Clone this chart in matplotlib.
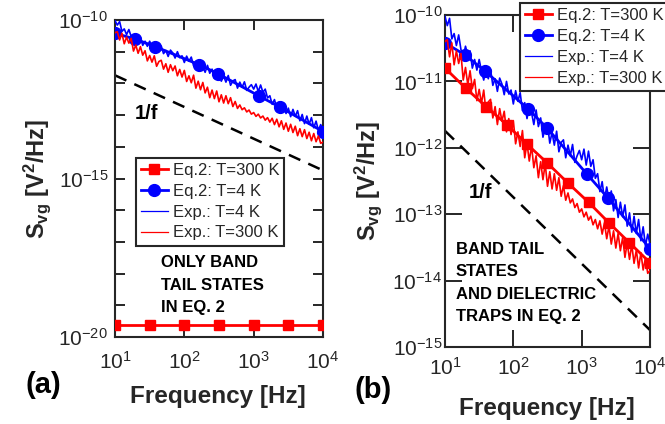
import numpy as np
import matplotlib
matplotlib.use("Agg")
import matplotlib.pyplot as plt
from matplotlib.ticker import FixedLocator, FuncFormatter, LogLocator, NullFormatter, NullLocator

plt.rcParams['font.family'] = ['Liberation Sans', 'DejaVu Sans']
plt.rcParams['mathtext.fontset'] = 'custom'
plt.rcParams['mathtext.rm'] = 'Liberation Sans'
plt.rcParams['mathtext.it'] = 'Liberation Sans:italic'
plt.rcParams['mathtext.bf'] = 'Liberation Sans:bold'

INK = '#262626'

# Measured gate-voltage noise spectra, log10(S_vg) on a log-spaced grid 10 Hz .. 10 kHz
exp_freq = np.logspace(1, 4, 91)
exp_4k_log = [
    -10.02, -10.16, -10.05, -10.36, -10.28, -10.46, -10.30, -10.52, -10.63, -10.47,
    -10.61, -10.54, -10.80, -10.67, -10.83, -10.67, -10.84, -10.98, -10.81, -10.96,
    -10.82, -11.06, -10.96, -11.15, -10.95, -11.04, -11.20, -11.00, -11.19, -11.13,
    -11.34, -11.14, -11.30, -11.17, -11.44, -11.32, -11.56, -11.37, -11.47, -11.65,
    -11.43, -11.68, -11.55, -11.84, -11.69, -11.64, -11.93, -11.77, -11.96, -11.75,
    -12.06, -11.92, -11.88, -12.15, -11.96, -12.12, -11.95, -12.22, -12.12, -12.04,
    -12.18, -12.02, -12.26, -12.05, -12.28, -12.18, -12.46, -12.39, -12.66, -12.51,
    -12.78, -12.59, -12.79, -12.65, -12.95, -12.78, -13.05, -12.82, -13.04, -12.86,
    -13.18, -12.98, -13.27, -13.03, -13.29, -13.08, -13.40, -13.19, -13.48, -13.30,
    -13.45]
exp_300k_log = [
    -10.40, -10.37, -10.63, -10.42, -10.75, -10.54, -10.73, -10.58, -10.98, -10.79,
    -11.05, -10.84, -11.11, -10.97, -11.29, -11.12, -11.33, -11.13, -11.46, -11.31,
    -11.27, -11.55, -11.38, -11.65, -11.41, -11.60, -11.45, -11.76, -11.56, -11.80,
    -11.59, -11.94, -11.76, -11.98, -11.74, -12.15, -11.93, -12.20, -11.97, -12.30,
    -12.12, -12.45, -12.21, -12.48, -12.24, -12.58, -12.36, -12.62, -12.39, -12.64,
    -12.45, -12.73, -12.57, -12.79, -12.68, -12.83, -12.77, -12.90, -12.84, -12.97,
    -12.92, -13.04, -12.97, -13.09, -13.03, -13.16, -13.08, -13.22, -13.10, -13.30,
    -13.13, -13.37, -13.18, -13.45, -13.25, -13.51, -13.29, -13.55, -13.35, -13.65,
    -13.43, -13.68, -13.46, -13.74, -13.54, -13.81, -13.58, -13.84, -13.66, -13.89,
    -13.85]

# Eq. 2 model, T = 4 K (same in both panels)
eq2_4k_freq = [10, 19.5, 38, 163, 310, 1180, 2400, 10000]
eq2_4k_log = [-10.42, -10.60, -10.84, -11.41, -11.70, -12.39, -12.75, -13.52]

# Eq. 2 model, T = 300 K, band tail states only
eq2_300k_a_freq = [10, 31.6, 100, 316, 1000, 3160, 10000]
eq2_300k_a = [2.4e-20, 2.4e-20, 2.4e-20, 2.4e-20, 2.4e-20, 2.4e-20, 2.4e-20]

# Eq. 2 model, T = 300 K, band tail states and dielectric traps
eq2_300k_b_freq = [10, 20, 40, 80, 160, 315, 630, 1260, 2510, 5010, 10000]
eq2_300k_b_log = [-10.80, -11.10, -11.38, -11.65, -11.95, -12.23, -12.53, -12.82,
                  -13.13, -13.43, -13.73]

# 1/f reference slope
ref_freq = [10, 10000]
ref_S = [1.8e-12, 1.8e-15]

x_ticks = [1e1, 1e2, 1e3, 1e4]
x_tick_labels = [r'$\mathregular{10^{1}}$', r'$\mathregular{10^{2}}$',
                 r'$\mathregular{10^{3}}$', r'$\mathregular{10^{4}}$']

W, H = 665, 424
fig = plt.figure(figsize=(W / 100, H / 100), dpi=100)


def frac(x, y):
    return x / W, 1 - y / H


def make_axes(x0, x1, ytop, ybot):
    return fig.add_axes([x0 / W, 1 - ybot / H, (x1 - x0) / W, (ybot - ytop) / H])


def pow_label(v, _pos=None, shown=None):
    e = int(round(np.log10(v)))
    if shown is not None and e not in shown:
        return ''
    return r'$\mathregular{10^{%d}}$' % e


def style_axes(ax, ylo, yhi, shown, major_len, minor_len, xpad, ypad):
    ax.set_xscale('log')
    ax.set_yscale('log')
    ax.set_xlim(10, 1e4)
    ax.set_ylim(10.0 ** ylo, 10.0 ** yhi)
    for s in ax.spines.values():
        s.set_linewidth(1.5)
        s.set_color(INK)
    ax.xaxis.set_major_locator(FixedLocator(x_ticks))
    ax.set_xticklabels(x_tick_labels)
    ax.xaxis.set_minor_locator(LogLocator(base=10, subs=np.arange(2, 10)))
    ax.xaxis.set_minor_formatter(NullFormatter())
    ax.yaxis.set_major_locator(FixedLocator([10.0 ** e for e in range(ylo, yhi + 1)]))
    ax.yaxis.set_major_formatter(FuncFormatter(lambda v, p: pow_label(v, p, shown)))
    ax.yaxis.set_minor_locator(NullLocator())
    ax.tick_params(which='both', direction='in', top=True, right=True,
                   color=INK, labelcolor=INK, width=1.4, labelsize=15)
    ax.tick_params(which='major', length=major_len)
    ax.tick_params(which='minor', length=minor_len)
    ax.tick_params(axis='x', which='major', pad=xpad)
    ax.tick_params(axis='y', which='major', pad=ypad)


def draw_common(ax, s300_freq, s300_vals):
    ax.plot(s300_freq, s300_vals, color='#ff0000', lw=2.0, marker='s', ms=7,
            label='Eq.2: T=300 K', zorder=3)
    ax.plot(eq2_4k_freq, 10.0 ** np.array(eq2_4k_log), color='#0000ff', lw=2.0,
            marker='o', ms=8.5, label='Eq.2: T=4 K', zorder=3)
    ax.plot(exp_freq, 10.0 ** np.array(exp_4k_log), color='#0000ff', lw=1.2,
            label='Exp.: T=4 K', zorder=4)
    ax.plot(exp_freq, 10.0 ** np.array(exp_300k_log), color='#ff0000', lw=1.2,
            label='Exp.: T=300 K', zorder=4)
    ax.plot(ref_freq, ref_S, color='black', lw=1.8, linestyle=(0, (5, 3.5)), zorder=2)


ylabel = r'S$_{\mathbf{vg}}$ [V$^{\mathbf{2}}$/Hz]'


def add_legend(ax, x, y):
    leg = ax.legend(loc='upper left', bbox_to_anchor=frac(x, y),
                    bbox_transform=fig.transFigure, fontsize=12, frameon=True,
                    fancybox=False, edgecolor=INK, framealpha=1, borderaxespad=0,
                    handlelength=1.6, handletextpad=0.3, labelspacing=0.35,
                    borderpad=0.3)
    leg.get_frame().set_linewidth(1.5)
    for t in leg.get_texts():
        t.set_color(INK)
    for h in leg.get_lines()[2:]:
        h.set_linewidth(0.9)
    return leg


# ---- panel (a)
ax_a = make_axes(115, 323, 20, 337)
style_axes(ax_a, -20, -10, {-10, -15, -20}, 7, 5, 10, 5)
draw_common(ax_a, eq2_300k_a_freq, eq2_300k_a)
ax_a.set_xlabel('Frequency [Hz]', fontsize=17.5, fontweight='bold', color=INK)
ax_a.xaxis.set_label_coords(0.495, -0.150)
ax_a.set_ylabel(ylabel, fontsize=17, fontweight='bold', color=INK)
ax_a.yaxis.set_label_coords(-0.30, 0.5)
add_legend(ax_a, 136, 158)

# ---- panel (b)
ax_b = make_axes(445, 650, 15, 347)
style_axes(ax_b, -15, -10, None, 12, 6, 7, 2)
draw_common(ax_b, eq2_300k_b_freq, 10.0 ** np.array(eq2_300k_b_log))
ax_b.set_xlabel('Frequency [Hz]', fontsize=17.5, fontweight='bold', color=INK)
ax_b.xaxis.set_label_coords(0.497, -0.150)
ax_b.set_ylabel(ylabel, fontsize=17, fontweight='bold', color=INK)
ax_b.yaxis.set_label_coords(-0.30, 0.5)
add_legend(ax_b, 520, 3)

# ---- annotations
fig.text(*frac(147, 113), '1/f', fontsize=14.5, fontweight='bold', ha='center',
         va='center', color='black')
fig.text(*frac(480, 192), '1/f', fontsize=14.5, fontweight='bold', ha='center',
         va='center', color='black')
fig.text(*frac(161, 285), 'ONLY BAND\nTAIL STATES\nIN EQ. 2', fontsize=12,
         fontweight='bold', ha='left', va='center', linespacing=1.6, color='black')
fig.text(*frac(456, 283), 'BAND TAIL\nSTATES\nAND DIELECTRIC\nTRAPS IN EQ. 2',
         fontsize=12, fontweight='bold', ha='left', va='center', linespacing=1.6,
         color='black')
fig.text(*frac(43, 385), '(a)', fontsize=21, fontweight='bold', ha='center',
         va='center', color='black')
fig.text(*frac(373, 390), '(b)', fontsize=21, fontweight='bold', ha='center',
         va='center', color='black')

fig.savefig('out.png', dpi=100)
